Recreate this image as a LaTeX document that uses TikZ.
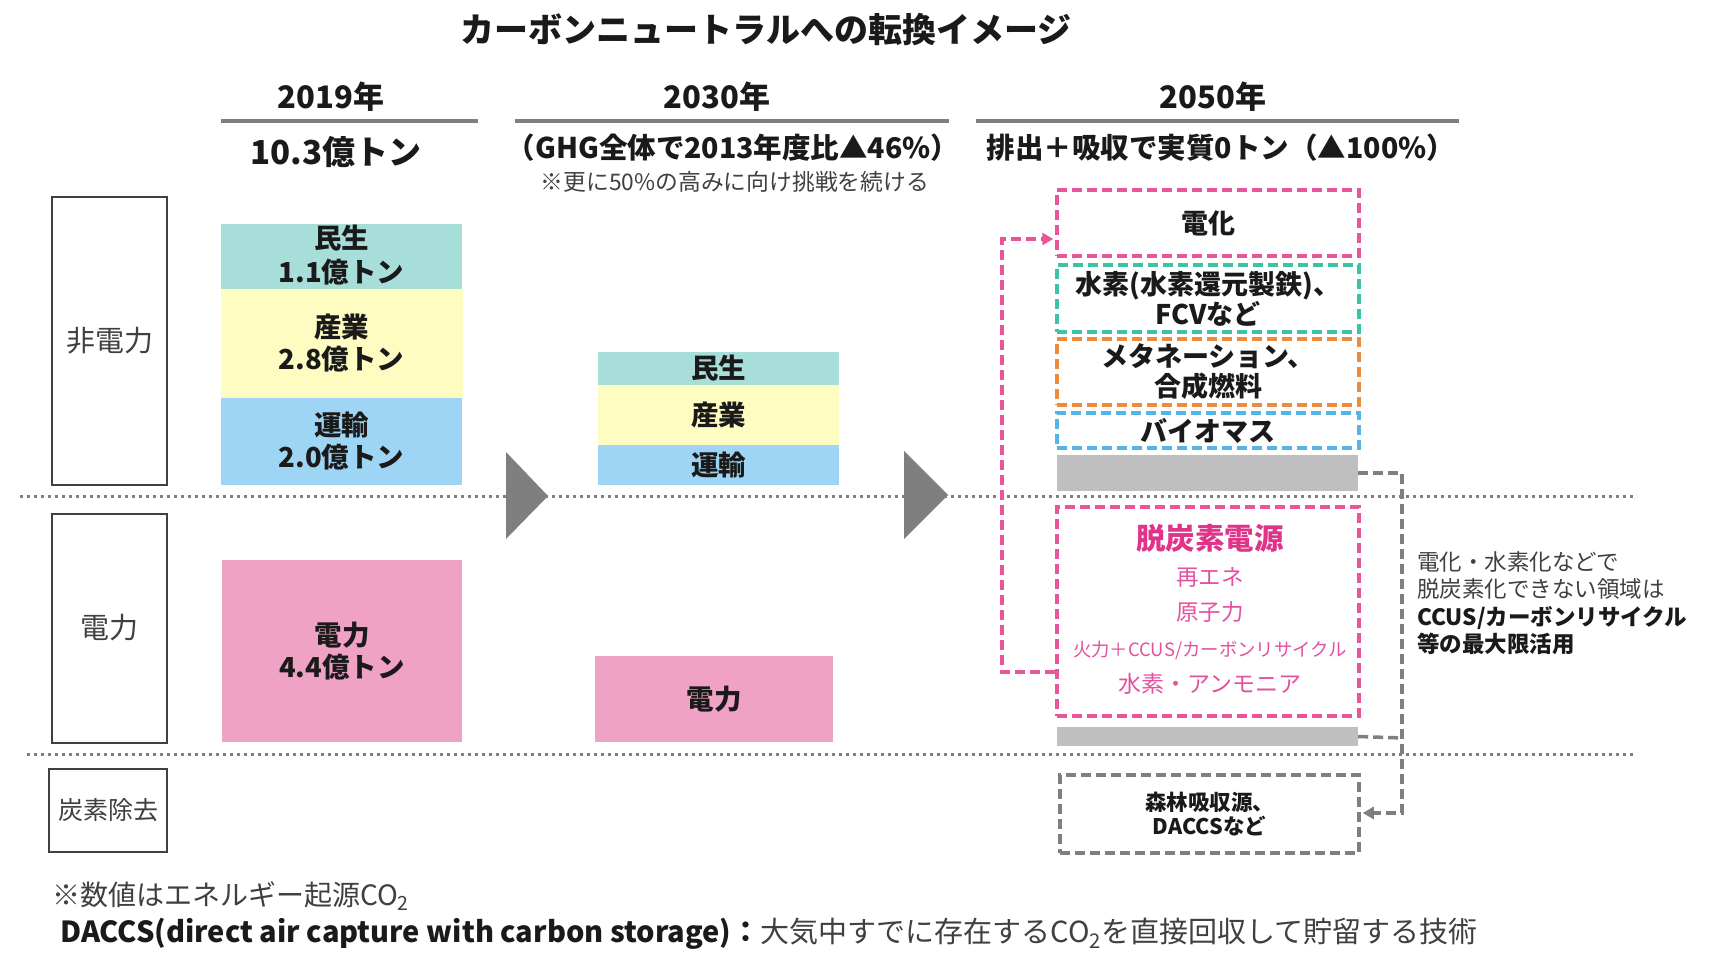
\documentclass[tikz,border=0pt]{standalone}
\usepackage{fontspec}
\setmainfont{Noto Sans CJK JP}
\usetikzlibrary{arrows.meta}
\definecolor{teal1}{HTML}{A8DEDA}
\definecolor{yel1}{HTML}{FFFCC2}
\definecolor{blu1}{HTML}{9ED5F4}
\definecolor{pnk1}{HTML}{F0A2C5}
\definecolor{gry1}{HTML}{BFBFBF}
\definecolor{gry2}{HTML}{7F7F7F}
\definecolor{pnkline}{HTML}{E9559B}
\definecolor{grnline}{HTML}{3CC2A6}
\definecolor{orgline}{HTML}{EF8A3A}
\definecolor{bluline}{HTML}{55B4E6}
\definecolor{pnktext}{HTML}{E0348B}
\definecolor{pnktext2}{HTML}{E4519E}
\definecolor{txt1}{HTML}{1A1A1A}
\definecolor{txt2}{HTML}{404040}
\tikzset{
 rowlab/.style={draw=txt2, line width=2pt, text=txt2, inner sep=0pt},
 sect/.style={inner sep=0pt, text=txt1, align=center, font=\bfseries\fontsize{27.5}{32}\selectfont},
 dbox/.style={line width=3.5pt, dash pattern=on 10pt off 5pt, inner sep=0pt, align=center, text=txt1, font=\bfseries\fontsize{27}{30}\selectfont},
 gbar/.style={fill=gry1, inner sep=0pt},
 conn/.style={line width=3.5pt, dash pattern=on 10pt off 5pt},
 sepline/.style={gry2, line width=3pt, dash pattern=on 3pt off 4pt},
 uline/.style={gry2, line width=3.5pt},
 hdr/.style={text=txt1, font=\bfseries\fontsize{31}{36}\selectfont},
 tip/.style={-{Triangle[length=11pt,width=12pt]}}
}
\begin{document}
\begin{tikzpicture}[x=1pt,y=-1pt]
\useasboundingbox[fill=white] (0,0) rectangle (1709,963);
% title
\node[text=txt1, font=\bfseries\fontsize{34}{40}\selectfont] (title) at (766,30) {カーボンニュートラルへの転換イメージ};
% headers
\node[hdr] (h19) at (331,97) {2019年};
\node[hdr] (h30) at (717,97) {2030年};
\node[hdr] (h50) at (1213,97) {2050年};
\draw[uline] (221,121) -- (478,121);
\draw[uline] (515,121) -- (949,121);
\draw[uline] (976,121) -- (1459,121);
\node[text=txt1, font=\bfseries\fontsize{33}{38}\selectfont] (t19) at (336,152) {10.3億トン};
\node[text=txt1, font=\bfseries\fontsize{28.5}{32}\selectfont] (t30) at (733,148) {（GHG全体で2013年度比▲46\%）};
\node[text=txt2, font=\fontsize{22.8}{26}\selectfont] (n30) at (735,182) {※更に50\%の高みに向け挑戦を続ける};
\node[text=txt1, font=\bfseries\fontsize{28.5}{32}\selectfont] (t50) at (1221,148) {排出＋吸収で実質0トン（▲100\%）};
% row labels
\node[rowlab, minimum width=115pt, minimum height=288pt, font=\fontsize{29}{32}\selectfont] (rl1) at (109.5,341) {非電力};
\node[rowlab, minimum width=115pt, minimum height=229pt, font=\fontsize{29}{32}\selectfont] (rl2) at (109.5,628.5) {\raisebox{5pt}{電力}};
\node[rowlab, minimum width=118pt, minimum height=83pt, font=\fontsize{25}{28}\selectfont] (rl3) at (108,810.5) {炭素除去};
% separators
\draw[sepline] (20,496) -- (1637,496);
\draw[sepline] (27,754) -- (1635,754);
% transition triangles
\fill[gry2] (506,452) -- (548,496) -- (506,539) -- cycle;
\fill[gry2] (904,451) -- (948,495) -- (904,539) -- cycle;
% 2019
\node[sect, fill=teal1, minimum width=241pt, minimum height=65pt] (m19) at (341.5,256.5) {\raisebox{5pt}{\shortstack{民生\\[5pt]1.1億トン}}};
\node[sect, fill=yel1, minimum width=242pt, minimum height=109pt] (s19) at (341.5,343.5) {産業\\2.8億トン};
\node[sect, fill=blu1, minimum width=241pt, minimum height=87pt] (u19) at (341.5,441.5) {運輸\\2.0億トン};
\node[sect, fill=pnk1, minimum width=240pt, minimum height=182pt] (e19) at (342,651) {電力\\4.4億トン};
% 2030
\node[sect, fill=teal1, minimum width=241pt, minimum height=33pt] (m30) at (718.5,368.5) {民生};
\node[sect, fill=yel1, minimum width=241pt, minimum height=60pt] (s30) at (718.5,415) {産業};
\node[sect, fill=blu1, minimum width=241pt, minimum height=40pt] (u30) at (718.5,465) {運輸};
\node[sect, fill=pnk1, minimum width=238pt, minimum height=86pt] (e30) at (714,699) {電力};
% 2050
\node[dbox, draw=pnkline, minimum width=302pt, minimum height=66pt] (dk) at (1208,223) {電化};
\node[dbox, draw=grnline, minimum width=302pt, minimum height=67pt] (hy) at (1208,298.5) {水素(水素還元製鉄)、\\FCVなど};
\node[dbox, draw=orgline, minimum width=302pt, minimum height=66pt] (me) at (1208,372) {メタネーション、\\合成燃料};
\node[dbox, draw=bluline, minimum width=302pt, minimum height=35pt] (bi) at (1208,430.5) {バイオマス};
\node[gbar, minimum width=301pt, minimum height=36pt] (g1) at (1207.5,473) {};
\node[dbox, draw=pnkline, minimum width=302pt, minimum height=209pt] (ds) at (1208,611.5) {};
\node[text=pnktext, font=\bfseries\fontsize{29.5}{32}\selectfont] (ds1) at (1210,538) {脱炭素電源};
\node[text=pnktext2, font=\fontsize{22.5}{26}\selectfont] (ds2) at (1210,577) {再エネ};
\node[text=pnktext2, font=\fontsize{22.5}{26}\selectfont] (ds3) at (1210,612) {原子力};
\node[text=pnktext2, font=\fontsize{18.4}{20}\selectfont] (ds4) at (1210,650) {火力＋CCUS/カーボンリサイクル};
\node[text=pnktext2, font=\fontsize{23}{26}\selectfont] (ds5) at (1210,684) {水素・アンモニア};
\node[gbar, minimum width=301pt, minimum height=19pt] (g2) at (1207.5,736.5) {};
\node[dbox, draw=gry2, minimum width=299pt, minimum height=78pt, font=\bfseries\fontsize{21.5}{24}\selectfont] (sh) at (1209.5,814) {森林吸収源、\\DACCSなど};
% connectors
\coordinate (pk1) at (1002,672);
\coordinate (pk2) at (1002,239);
\draw[conn, pnkline, tip, shorten >=2pt] (ds.west |- pk1) -- (pk1) -- (pk2) -- (dk.west |- pk2);
\coordinate (gc1) at (1402,473);
\coordinate (gc2) at (1402,813);
\coordinate (gc3) at (1402,738);
\draw[conn, gry2, tip, shorten >=2pt] (g1.east) -- (gc1) -- (gc2) -- (sh.east |- gc2);
\draw[conn, gry2] (g2.east) -- (gc3);
% right note
\node[anchor=west, inner sep=0pt, align=left, text=txt2, font=\fontsize{22.5}{27.5}\selectfont] (rt) at (1417,603) {電化・水素化などで\\脱炭素化できない領域は\\{\bfseries\color{txt1}CCUS/カーボンリサイクル}\\{\bfseries\color{txt1}等の最大限活用}};
% footnotes
\node[anchor=west, inner sep=0pt, text=txt2, font=\fontsize{28}{30}\selectfont] (fn1) at (52,896) {※数値はエネルギー起源CO\textsubscript{2}};
\node[anchor=west, inner sep=0pt, text=txt2, font=\fontsize{29}{32}\selectfont] (fn2) at (60,934) {{\bfseries\color{txt1}DACCS(direct air capture with carbon storage)：}大気中すでに存在するCO\textsubscript{2}を直接回収して貯留する技術};
\end{tikzpicture}
\end{document}
